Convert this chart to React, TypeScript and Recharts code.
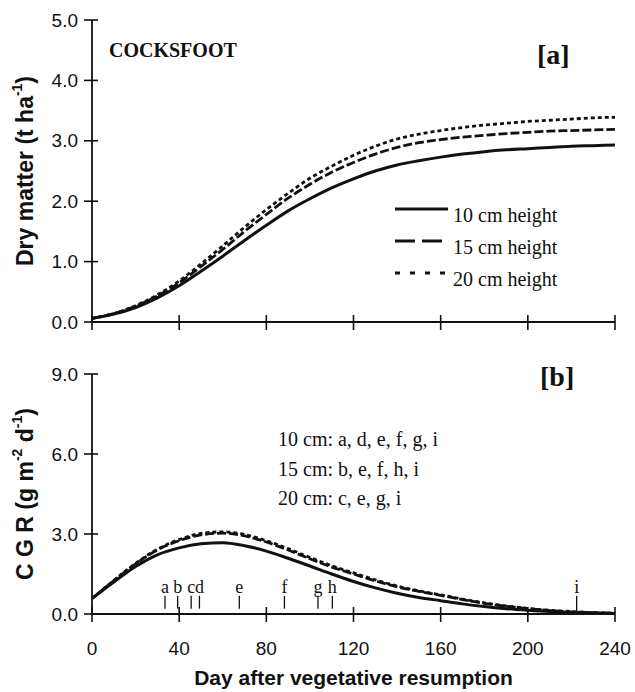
import { LineChart, Line, XAxis, YAxis, Legend, ReferenceLine, ReferenceDot, Label } from "recharts";

const days = [0, 10, 20, 30, 40, 50, 60, 70, 80, 90, 100, 110, 120, 130, 140, 150, 160, 170, 180, 190, 200, 210, 220, 230, 240];

// dry matter (t/ha)
const dm10 = [0.06, 0.13, 0.24, 0.4, 0.6, 0.84, 1.09, 1.35, 1.6, 1.84, 2.04, 2.22, 2.37, 2.5, 2.6, 2.67, 2.73, 2.78, 2.82, 2.85, 2.87, 2.89, 2.91, 2.92, 2.93];
const dm15 = [0.06, 0.14, 0.26, 0.43, 0.65, 0.92, 1.2, 1.5, 1.78, 2.05, 2.28, 2.48, 2.64, 2.78, 2.89, 2.97, 3.02, 3.06, 3.09, 3.12, 3.14, 3.16, 3.17, 3.18, 3.19];
const dm20 = [0.06, 0.14, 0.27, 0.45, 0.68, 0.96, 1.26, 1.57, 1.86, 2.13, 2.38, 2.58, 2.76, 2.91, 3.03, 3.11, 3.17, 3.22, 3.26, 3.29, 3.32, 3.34, 3.36, 3.38, 3.39];

// crop growth rate (g m-2 d-1)
const cgr10 = [0.58, 1.2, 1.78, 2.22, 2.48, 2.63, 2.67, 2.56, 2.36, 2.09, 1.8, 1.5, 1.22, 0.98, 0.78, 0.62, 0.5, 0.38, 0.28, 0.2, 0.14, 0.09, 0.06, 0.04, 0.02];
const cgr15 = [0.58, 1.25, 1.88, 2.4, 2.75, 2.97, 3.03, 2.93, 2.7, 2.4, 2.07, 1.76, 1.5, 1.24, 1.02, 0.85, 0.7, 0.54, 0.4, 0.29, 0.2, 0.13, 0.08, 0.05, 0.03];
const cgr20 = [0.58, 1.26, 1.9, 2.43, 2.79, 3.02, 3.08, 2.98, 2.75, 2.45, 2.12, 1.81, 1.54, 1.28, 1.05, 0.87, 0.72, 0.56, 0.42, 0.3, 0.21, 0.14, 0.09, 0.05, 0.03];

const dayTicks = [0, 40, 80, 120, 160, 200, 240];
const dmTicks = [0, 1, 2, 3, 4, 5];
const cgrTicks = [0, 3, 6, 9];

const seriesNames = ["10 cm height", "15 cm height", "20 cm height"];

const markerDays = [33.5, 39.3, 45.5, 49.3, 67.6, 88.3, 103.7, 110.3, 222.4];
const markerLetters = ["a", "b", "c", "d", "e", "f", "g", "h", "i"];
const markerBase = [0.2, 0.2, 0.2, 0.2, 0.2, 0.2, 0.2, 0.2, 0.08];

const noteLines = ["10 cm: a, d, e, f, g, i", "15 cm: b, e, f, h, i", "20 cm: c, e, g, i"];

const dmData = days.map((d, i) => ({ day: d, h10: dm10[i], h15: dm15[i], h20: dm20[i] }));
const cgrData = days.map((d, i) => ({ day: d, h10: cgr10[i], h15: cgr15[i], h20: cgr20[i] }));

const SANS = "'Liberation Sans', Arial, sans-serif";
const SERIF = "'Liberation Serif', 'Times New Roman', serif";
const INK = "#111";

const plotDash = [undefined, "9 3", "4 3"];
const legendDash = [undefined, "20 7", "5 10"];

const xTick = (showLabel: boolean) => (props: any) => {
  const { x, y, payload } = props;
  return (
    <g>
      <line x1={x} x2={x} y1={y - 7} y2={y + 8} stroke={INK} strokeWidth={1.6} />
      {showLabel && (
        <text x={x} y={y + 41} textAnchor="middle" fontFamily={SANS} fontSize={19} fill={INK}>
          {payload.value}
        </text>
      )}
    </g>
  );
};

const yTick = (props: any) => {
  const { x, y, payload } = props;
  return (
    <g>
      <line x1={x - 8} x2={x + 6} y1={y} y2={y} stroke={INK} strokeWidth={1.6} />
      <text x={x - 14} y={y} dy="0.35em" textAnchor="end" fontFamily={SANS} fontSize={19} fill={INK}>
        {Number(payload.value).toFixed(1)}
      </text>
    </g>
  );
};

const yTitle = (parts: { t: string; sup?: boolean }[]) => (props: any) => {
  const vb = props.viewBox;
  const cx = vb.x + 25;
  const cy = vb.y + vb.height / 2;
  return (
    <text
      x={cx}
      y={cy}
      transform={`rotate(-90, ${cx}, ${cy})`}
      textAnchor="middle"
      dominantBaseline="central"
      fontFamily={SANS}
      fontWeight="bold"
      fontSize={23}
      fill={INK}
    >
      {parts.map((p, i) =>
        p.sup ? (
          <tspan key={i} dy={-8} fontSize={14}>
            {p.t}
          </tspan>
        ) : (
          <tspan key={i} dy={i > 0 && parts[i - 1].sup ? 8 : 0}>
            {p.t}
          </tspan>
        )
      )}
    </text>
  );
};

const renderLegend = () => (
  <svg width={200} height={100}>
    {seriesNames.map((name, i) => (
      <g key={name}>
        <line x1={5} x2={58} y1={14 + 32 * i} y2={14 + 32 * i} stroke={INK} strokeWidth={3} strokeDasharray={legendDash[i]} />
        <text x={63} y={26.5 + 32 * i} fontFamily={SERIF} fontSize={20} fill={INK}>
          {name}
        </text>
      </g>
    ))}
  </svg>
);

const letterShape = (letter: string) => (props: any) => (
  <text x={props.cx} y={props.cy} textAnchor="middle" fontFamily={SERIF} fontSize={18} fill={INK}>
    {letter}
  </text>
);

export default function App() {
  return (
    <div style={{ position: "absolute", left: 0, top: 0, width: 635, height: 692, background: "#fff" }}>
      <div style={{ position: "absolute", left: 0, top: 0 }}>
        <LineChart width={635} height={345} data={dmData} margin={{ top: 20, right: 20, bottom: 0, left: 0 }}>
          <XAxis
            dataKey="day"
            type="number"
            domain={[0, 240]}
            ticks={dayTicks}
            height={23}
            tickSize={0}
            tickMargin={0}
            tickLine={false}
            tick={xTick(false)}
            axisLine={{ stroke: INK, strokeWidth: 1.8 }}
          />
          <YAxis
            type="number"
            domain={[0, 5]}
            ticks={dmTicks}
            width={92}
            tickSize={0}
            tickMargin={0}
            tickLine={false}
            tick={yTick}
            axisLine={{ stroke: INK, strokeWidth: 1.8 }}
          >
            <Label content={yTitle([{ t: "Dry matter  (t ha" }, { t: "-1", sup: true }, { t: ")" }])} />
          </YAxis>
          <Legend
            layout="vertical"
            align="center"
            verticalAlign="middle"
            content={renderLegend}
            wrapperStyle={{ left: 390, top: 195, width: 200, height: 100 }}
          />
          {["h10", "h15", "h20"].map((k, i) => (
            <Line
              key={k}
              dataKey={k}
              name={seriesNames[i]}
              type="monotone"
              stroke={INK}
              strokeWidth={i === 0 ? 3 : 2.8}
              strokeDasharray={plotDash[i]}
              dot={false}
              activeDot={false}
              isAnimationActive={false}
            />
          ))}
          <text x={109} y={57} fontFamily={SERIF} fontWeight="bold" fontSize={20} fill={INK}>
            COCKSFOOT
          </text>
          <text x={537} y={64} fontFamily={SERIF} fontWeight="bold" fontSize={28} fill={INK}>
            [a]
          </text>
        </LineChart>
      </div>
      <div style={{ position: "absolute", left: 0, top: 345 }}>
        <LineChart width={635} height={347} data={cgrData} margin={{ top: 29, right: 20, bottom: 0, left: 0 }}>
          <XAxis
            dataKey="day"
            type="number"
            domain={[0, 240]}
            ticks={dayTicks}
            height={78}
            tickSize={0}
            tickMargin={0}
            tickLine={false}
            tick={xTick(true)}
            axisLine={{ stroke: INK, strokeWidth: 1.8 }}
          >
            <Label
              value="Day after vegetative resumption"
              position="insideBottom"
              offset={7}
              fontFamily={SANS}
              fontWeight="bold"
              fontSize={21}
              fill={INK}
            />
          </XAxis>
          <YAxis
            type="number"
            domain={[0, 9]}
            ticks={cgrTicks}
            width={92}
            tickSize={0}
            tickMargin={0}
            tickLine={false}
            tick={yTick}
            axisLine={{ stroke: INK, strokeWidth: 1.8 }}
          >
            <Label
              content={yTitle([
                { t: "C G R  (g m" },
                { t: "-2", sup: true },
                { t: " d" },
                { t: "-1", sup: true },
                { t: ")" },
              ])}
            />
          </YAxis>
          {["h10", "h15", "h20"].map((k, i) => (
            <Line
              key={k}
              dataKey={k}
              name={seriesNames[i]}
              type="monotone"
              stroke={INK}
              strokeWidth={i === 0 ? 3 : 2.8}
              strokeDasharray={plotDash[i]}
              dot={false}
              activeDot={false}
              isAnimationActive={false}
            />
          ))}
          {markerDays.map((d, i) => (
            <ReferenceLine
              key={`ml${i}`}
              segment={[
                { x: d, y: markerBase[i] },
                { x: d, y: 0.68 },
              ]}
              stroke={INK}
              strokeWidth={1.3}
            />
          ))}
          {markerDays.map((d, i) => (
            <ReferenceDot key={`md${i}`} x={d} y={0.8} r={0} shape={letterShape(markerLetters[i])} />
          ))}
          {noteLines.map((t, i) => (
            <text key={t} x={278} y={101 + 29.5 * i} fontFamily={SERIF} fontSize={20} fill={INK}>
              {t}
            </text>
          ))}
          <text x={540} y={41} fontFamily={SERIF} fontWeight="bold" fontSize={28} fill={INK}>
            [b]
          </text>
        </LineChart>
      </div>
    </div>
  );
}
